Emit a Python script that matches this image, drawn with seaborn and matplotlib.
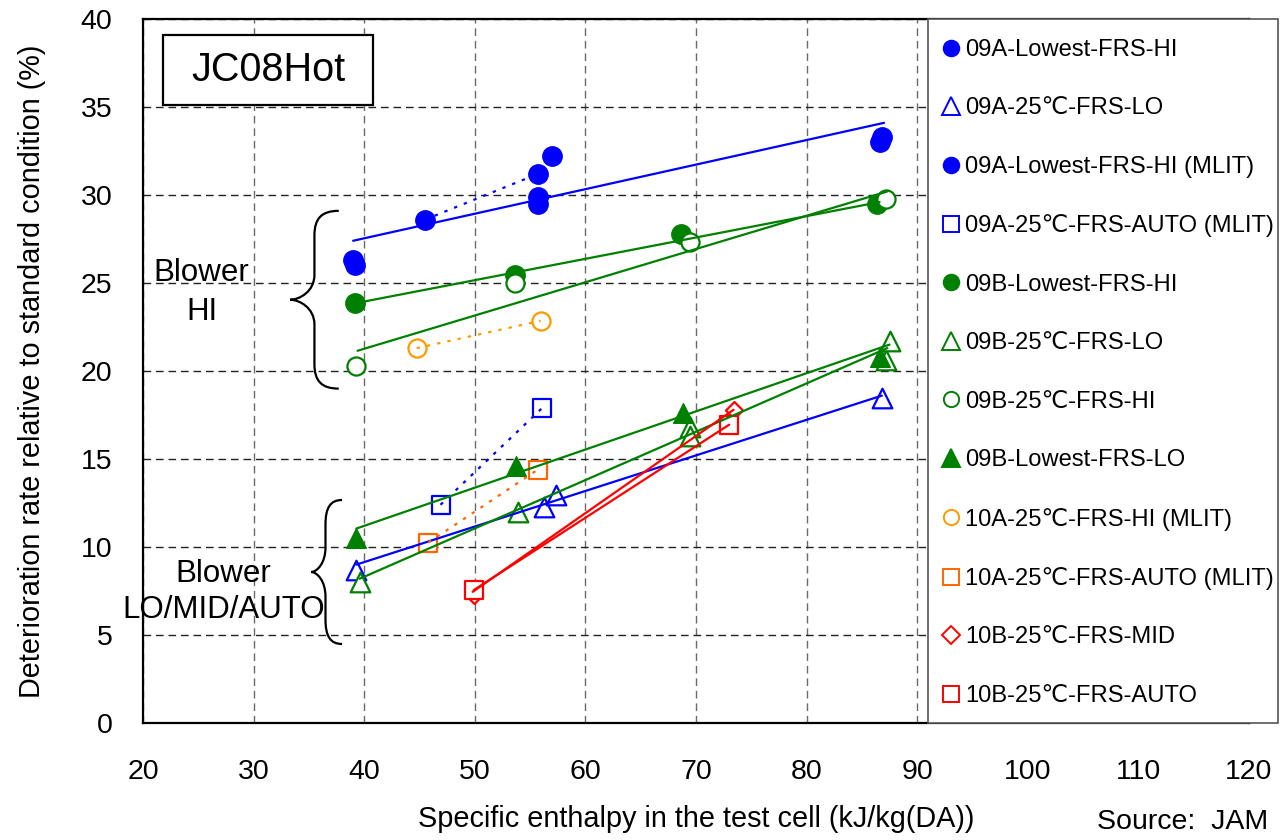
import numpy as np
import pandas as pd
import matplotlib
matplotlib.use("Agg")
import matplotlib.pyplot as plt
import seaborn as sns
from matplotlib.lines import Line2D
from matplotlib.patches import Rectangle, PathPatch
from matplotlib.path import Path

# ---------------- data ----------------
x_ticks = [20, 30, 40, 50, 60, 70, 80, 90, 100, 110, 120]
y_ticks = [0, 5, 10, 15, 20, 25, 30, 35, 40]

labels = [
    "09A-Lowest-FRS-HI",
    "09A-25\u2103-FRS-LO",
    "09A-Lowest-FRS-HI (MLIT)",
    "09A-25\u2103-FRS-AUTO (MLIT)",
    "09B-Lowest-FRS-HI",
    "09B-25\u2103-FRS-LO",
    "09B-25\u2103-FRS-HI",
    "09B-Lowest-FRS-LO",
    "10A-25\u2103-FRS-HI (MLIT)",
    "10A-25\u2103-FRS-AUTO (MLIT)",
    "10B-25\u2103-FRS-MID",
    "10B-25\u2103-FRS-AUTO",
]

a09_low_hi_x = [39.0, 39.2, 55.7, 55.7, 57.0, 86.6, 86.8]
a09_low_hi_y = [26.3, 26.0, 29.9, 29.5, 32.2, 33.0, 33.3]
a09_low_hi_trend_x = [39.0, 87.0]
a09_low_hi_trend_y = [27.4, 34.1]

a09_25_lo_x = [39.3, 56.3, 57.3, 86.8]
a09_25_lo_y = [8.7, 12.3, 12.95, 18.45]
a09_25_lo_trend_x = [39.3, 86.8]
a09_25_lo_trend_y = [9.0, 18.6]

a09_low_hi_mlit_x = [45.5, 55.7]
a09_low_hi_mlit_y = [28.6, 31.2]

a09_25_auto_mlit_x = [46.9, 56.1]
a09_25_auto_mlit_y = [12.4, 17.9]

b09_low_hi_x = [39.2, 53.6, 68.6, 86.4]
b09_low_hi_y = [23.85, 25.45, 27.8, 29.5]
b09_low_hi_trend_x = [39.2, 86.6]
b09_low_hi_trend_y = [23.85, 29.6]

b09_25_lo_x = [39.6, 53.9, 69.5, 69.5, 87.2, 87.5]
b09_25_lo_y = [8.0, 12.0, 16.8, 16.3, 20.6, 21.7]
b09_25_lo_trend_x = [39.6, 87.3]
b09_25_lo_trend_y = [8.2, 21.3]

b09_25_hi_x = [39.3, 53.6, 69.5, 87.2]
b09_25_hi_y = [20.3, 25.0, 27.35, 29.8]
b09_25_hi_trend_x = [39.4, 87.3]
b09_25_hi_trend_y = [21.15, 30.2]

b09_low_lo_x = [39.3, 53.7, 68.85, 86.6]
b09_low_lo_y = [10.5, 14.6, 17.6, 20.8]
b09_low_lo_trend_x = [39.3, 87.5]
b09_low_lo_trend_y = [11.05, 21.5]

a10_25_hi_mlit_x = [44.75, 55.95]
a10_25_hi_mlit_y = [21.3, 22.85]

a10_25_auto_mlit_x = [45.8, 55.7]
a10_25_auto_mlit_y = [10.25, 14.4]

b10_25_mid_x = [49.9, 73.4]
b10_25_mid_y = [7.3, 17.8]
b10_25_mid_trend_x = [49.8, 73.4]
b10_25_mid_trend_y = [7.45, 17.8]

b10_25_auto_x = [49.9, 73.0]
b10_25_auto_y = [7.55, 16.95]

# ---------------- style ----------------
BLUE = "#0000FF"
GREEN = "#008000"
LORANGE = "#FF9900"
ORANGE = "#FF6600"
RED = "#FF0000"

sns.set_theme(style="white")
plt.rcParams["font.family"] = ["Liberation Sans", "DejaVu Sans"]
plt.rcParams["text.color"] = "black"
plt.rcParams["axes.labelcolor"] = "black"
plt.rcParams["xtick.color"] = "black"
plt.rcParams["ytick.color"] = "black"

W, H = 1283, 840
fig = plt.figure(figsize=(W / 100, H / 100), dpi=100)
ax = fig.add_axes([143 / W, 117 / H, 1106 / W, 704 / H])

ax.set_xlim(20, 120)
ax.set_ylim(0, 40)
ax.set_xticks(x_ticks)
ax.set_yticks(y_ticks)
ax.tick_params(axis="both", length=0, labelsize=20.5, colors="black")
ax.tick_params(axis="x", pad=26)
ax.tick_params(axis="y", pad=22)

ax.set_axisbelow(True)
ax.xaxis.grid(True, color="#6a6a6a", linestyle=(0, (5.5, 3.5)), linewidth=1.0)
ax.yaxis.grid(True, color="#222222", linestyle=(0, (5.5, 3.5)), linewidth=1.0)
for side in ["left", "bottom", "top", "right"]:
    ax.spines[side].set_color("black")
    ax.spines[side].set_linewidth(1.6)

# points: (x, y, color, marker, size, filled)
point_series = [
    (a09_low_hi_x, a09_low_hi_y, BLUE, "o", 195, True),
    (a09_25_lo_x, a09_25_lo_y, BLUE, "^", 200, False),
    (a09_low_hi_mlit_x, a09_low_hi_mlit_y, BLUE, "o", 195, True),
    (a09_25_auto_mlit_x, a09_25_auto_mlit_y, BLUE, "s", 170, False),
    (b09_low_hi_x, b09_low_hi_y, GREEN, "o", 195, True),
    (b09_25_lo_x, b09_25_lo_y, GREEN, "^", 200, False),
    (b09_25_hi_x, b09_25_hi_y, GREEN, "o", 170, False),
    (b09_low_lo_x, b09_low_lo_y, GREEN, "^", 200, True),
    (a10_25_hi_mlit_x, a10_25_hi_mlit_y, LORANGE, "o", 170, False),
    (a10_25_auto_mlit_x, a10_25_auto_mlit_y, ORANGE, "s", 170, False),
    (b10_25_mid_x, b10_25_mid_y, RED, "D", 75, False),
    (b10_25_auto_x, b10_25_auto_y, RED, "s", 170, False),
]
for xs, ys, col, mk, sz, filled in point_series:
    if filled:
        sns.scatterplot(x=xs, y=ys, ax=ax, marker=mk, s=sz, color=col,
                        edgecolor=col, linewidth=1.0, zorder=3, legend=False)
    else:
        sns.scatterplot(x=xs, y=ys, ax=ax, marker=mk, s=sz, color="white",
                        facecolor="white", edgecolor=col, linewidth=1.6,
                        zorder=3, legend=False)

DOT = (0, (1.5, 3.2))
line_series = [
    (a09_low_hi_trend_x, a09_low_hi_trend_y, BLUE, "-"),
    (a09_25_lo_trend_x, a09_25_lo_trend_y, BLUE, "-"),
    (a09_low_hi_mlit_x, a09_low_hi_mlit_y, BLUE, DOT),
    (a09_25_auto_mlit_x, a09_25_auto_mlit_y, BLUE, DOT),
    (b09_low_hi_trend_x, b09_low_hi_trend_y, GREEN, "-"),
    (b09_25_lo_trend_x, b09_25_lo_trend_y, GREEN, "-"),
    (b09_25_hi_trend_x, b09_25_hi_trend_y, GREEN, "-"),
    (b09_low_lo_trend_x, b09_low_lo_trend_y, GREEN, "-"),
    (a10_25_hi_mlit_x, a10_25_hi_mlit_y, LORANGE, DOT),
    (a10_25_auto_mlit_x, a10_25_auto_mlit_y, ORANGE, DOT),
    (b10_25_mid_trend_x, b10_25_mid_trend_y, RED, "-"),
    (b10_25_auto_x, b10_25_auto_y, RED, "-"),
]
for xs, ys, col, ls in line_series:
    sns.lineplot(x=xs, y=ys, ax=ax, color=col, linewidth=1.6, linestyle=ls,
                 sort=False, estimator=None, zorder=4, legend=False)


# ---------------- annotations ----------------
def brace(x_end, x_spine, x_tip, y_top, y_bot, rx, ry):
    y_mid = (y_top + y_bot) / 2
    verts = [
        (x_end, y_top),
        (x_spine + rx * 0.3, y_top), (x_spine, y_top - ry * 0.3), (x_spine, y_top - ry),
        (x_spine, y_mid + ry),
        (x_spine, y_mid + ry * 0.35), (x_tip + (x_spine - x_tip) * 0.4, y_mid), (x_tip, y_mid),
        (x_tip + (x_spine - x_tip) * 0.4, y_mid), (x_spine, y_mid - ry * 0.35), (x_spine, y_mid - ry),
        (x_spine, y_bot + ry),
        (x_spine, y_bot + ry * 0.3), (x_spine + rx * 0.3, y_bot), (x_end, y_bot),
    ]
    codes = [Path.MOVETO,
             Path.CURVE4, Path.CURVE4, Path.CURVE4,
             Path.LINETO,
             Path.CURVE4, Path.CURVE4, Path.CURVE4,
             Path.CURVE4, Path.CURVE4, Path.CURVE4,
             Path.LINETO,
             Path.CURVE4, Path.CURVE4, Path.CURVE4]
    ax.add_patch(PathPatch(Path(verts, codes), facecolor="none",
                           edgecolor="black", linewidth=1.6, zorder=5,
                           clip_on=False))


brace(37.7, 35.5, 33.3, 29.1, 19.0, 2.2, 1.4)
brace(38.0, 36.5, 35.2, 12.67, 4.49, 1.5, 1.4)

ax.text(25.3, 24.45, "Blower\nHI", fontsize=22.5, ha="center", va="center",
        multialignment="center", linespacing=1.38, zorder=6, color="black")
ax.text(27.3, 7.45, "Blower\nLO/MID/AUTO", fontsize=22.5, ha="center",
        va="center", multialignment="center", linespacing=1.25, zorder=6,
        clip_on=False, color="black")

ax.add_patch(Rectangle((21.8, 35.1), 19.0, 4.0, facecolor="white",
                       edgecolor="black", linewidth=1.6, zorder=6))
ax.text(31.3, 37.1, "JC08Hot", fontsize=28.5, ha="center", va="center",
        zorder=7, color="black")

ax.set_xlabel("Specific enthalpy in the test cell (kJ/kg(DA))", fontsize=20.8,
              color="black")
ax.set_ylabel("Deterioration rate relative to standard condition (%)",
              fontsize=20.8, color="black")
ax.xaxis.set_label_coords(0.5, (723 - 819) / 704)
ax.xaxis.label.set_va("center")
ax.yaxis.set_label_coords((32 - 143) / 1106, 0.5)
ax.yaxis.label.set_va("center")

# ---------------- legend panel ----------------
panel = Rectangle((928 / W, 117 / H), 350 / W, 704 / H, transform=fig.transFigure,
                  facecolor="white", edgecolor="#555555", linewidth=1.2, zorder=10)
fig.add_artist(panel)

leg_style = [
    (BLUE, "o", 11.2, True),
    (BLUE, "^", 13.0, False),
    (BLUE, "o", 11.2, True),
    (BLUE, "s", 11.0, False),
    (GREEN, "o", 11.2, True),
    (GREEN, "^", 13.0, False),
    (GREEN, "o", 11.0, False),
    (GREEN, "^", 13.0, True),
    (LORANGE, "o", 11.0, False),
    (ORANGE, "s", 11.0, False),
    (RED, "D", 9.0, False),
    (RED, "s", 11.0, False),
]
handles = []
for col, mk, ms, filled in leg_style:
    handles.append(Line2D([], [], linestyle="none", marker=mk, markersize=ms,
                          markerfacecolor=col if filled else "white",
                          markeredgecolor=col, markeredgewidth=1.4))
leg = fig.legend(handles, labels, loc="upper left",
                 bbox_to_anchor=(939 / W, 1 - 39 / H), frameon=False,
                 fontsize=17.1, handlelength=1.0, handletextpad=0.1,
                 labelspacing=1.535, borderpad=0, borderaxespad=0,
                 labelcolor="black")
leg.set_zorder(11)

fig.text(1097 / W, 1 - 822 / H, "Source:  JAM", fontsize=20.5, ha="left",
         va="center", color="black")

fig.savefig("out.png", dpi=100)
